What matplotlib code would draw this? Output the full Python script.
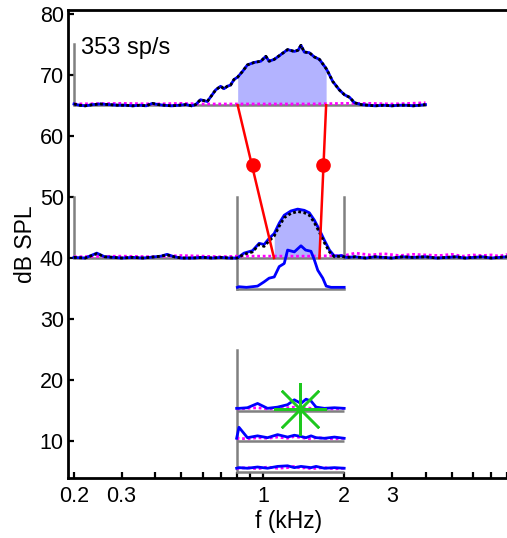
import matplotlib
matplotlib.use("Agg")
import matplotlib.pyplot as plt
import numpy as np

plt.rcParams['font.family'] = ['Liberation Sans', 'DejaVu Sans']

# ---------------- data ----------------
# top panel (rate profile at 65 dB, 353 sp/s scale)
top_f = [0.2, 0.21, 0.22, 0.235, 0.25, 0.27, 0.29, 0.31, 0.33, 0.35, 0.37, 0.39, 0.41, 0.43,
         0.46, 0.49, 0.52, 0.545, 0.564, 0.588, 0.623, 0.669, 0.698, 0.718, 0.739, 0.76, 0.782,
         0.807, 0.84, 0.877, 0.929, 0.983, 1.026, 1.055, 1.102, 1.167, 1.235, 1.308, 1.35,
         1.384, 1.424, 1.486, 1.551, 1.62, 1.69, 1.715, 1.74, 1.814, 1.92, 2.007, 2.093,
         2.185, 2.313, 2.45, 2.6, 2.8, 3.0, 3.2, 3.4, 3.6, 3.8, 4.0]
top_db = [65.2, 65.0, 64.9, 65.1, 65.2, 65.1, 65.0, 65.0, 64.9, 65.0, 64.9, 65.3, 65.1, 65.0,
          64.9, 65.0, 65.1, 64.9, 65.1, 65.9, 65.6, 67.5, 68.1, 67.7, 68.1, 68.3, 69.2,
          69.6, 70.5, 71.6, 72.0, 72.2, 73.0, 72.2, 72.5, 73.3, 74.1, 73.8, 74.0,
          74.8, 73.7, 73.6, 72.9, 72.5, 71.4, 71.0, 70.5, 68.9, 67.5, 66.7, 66.3,
          65.4, 65.1, 65.0, 64.9, 65.0, 64.9, 65.0, 65.0, 64.9, 65.0, 65.1]
top_mag_f = [0.2, 0.3, 0.4, 0.5, 0.6, 0.8, 1.0, 1.5, 2.0, 2.5, 3.0, 3.5, 4.0]
top_mag_db = [65.2, 65.3, 65.2, 65.3, 65.2, 65.2, 65.2, 65.2, 65.3, 65.3, 65.2, 65.3, 65.4]

# middle panel (profile at 40 dB)
mid_f = [0.2, 0.22, 0.243, 0.26, 0.28, 0.3, 0.33, 0.36, 0.38, 0.42, 0.442, 0.47, 0.5, 0.55,
         0.6, 0.65, 0.7, 0.75, 0.805, 0.852, 0.916, 0.969, 1.011, 1.055, 1.102, 1.15, 1.2,
         1.271, 1.346, 1.424, 1.486, 1.551, 1.62, 1.69, 1.764, 1.841, 1.95, 2.035, 2.2, 2.4,
         2.6, 2.8, 3.0, 3.3, 3.6, 4.0, 4.4, 4.8, 5.2, 5.6, 6.0, 6.5, 7.0, 7.5, 8.0]
mid_db = [40.1, 40.0, 40.8, 40.2, 40.1, 40.0, 40.1, 40.0, 40.1, 40.3, 40.6, 40.2, 40.0, 40.0,
          40.1, 40.0, 40.1, 40.0, 40.0, 40.8, 41.2, 42.4, 42.2, 43.2, 44.0, 45.7, 47.0,
          47.7, 48.0, 47.8, 47.4, 46.2, 44.6, 42.9, 41.3, 40.3, 40.4, 40.1, 40.2, 40.0,
          40.2, 40.1, 40.0, 40.2, 40.1, 40.2, 40.0, 40.1, 40.2, 40.0, 40.1, 40.2, 40.0, 40.1, 40.2]
mid_black_db = [40.1, 40.0, 40.7, 40.2, 40.1, 40.0, 40.1, 40.0, 40.1, 40.3, 40.5, 40.2, 40.0, 40.0,
                40.1, 40.0, 40.1, 40.0, 40.0, 40.6, 41.0, 42.2, 41.9, 42.8, 43.6, 45.2, 46.6,
                47.3, 47.6, 47.4, 47.0, 45.8, 44.2, 42.5, 41.0, 40.2, 40.3, 40.1, 40.2, 40.0,
                40.2, 40.1, 40.0, 40.2, 40.1, 40.2, 40.0, 40.1, 40.2, 40.0, 40.1, 40.2, 40.0, 40.1, 40.2]
mid_mag_f = [0.2, 0.3, 0.4, 0.5, 0.6, 0.7, 0.8, 1.0, 1.5, 2.0, 2.2, 2.5, 2.8, 3.2, 3.6,
             4.0, 4.5, 5.0, 5.5, 6.0, 6.5, 7.0, 7.5, 8.0]
mid_mag_db = [40.2, 40.3, 40.2, 40.4, 40.3, 40.2, 40.3, 40.3, 40.3, 40.4, 40.8, 40.5, 40.7,
              40.4, 40.6, 40.5, 40.4, 40.6, 40.3, 40.5, 40.4, 40.5, 40.3, 40.6]

# lower inset of middle panel (baseline 35)
low_f = [0.805, 0.816, 0.87, 0.956, 1.011, 1.055, 1.102, 1.15, 1.2, 1.235, 1.308, 1.384,
         1.44, 1.507, 1.551, 1.597, 1.667, 1.716, 1.79, 1.9, 2.0]
low_db = [35.2, 35.3, 35.2, 35.4, 36.1, 36.7, 36.9, 38.6, 39.1, 41.3, 41.0, 42.0,
          41.3, 41.1, 39.7, 38.0, 36.7, 35.4, 35.2, 35.2, 35.2]

# bottom traces (baselines 15, 10, 5)
bot_f = [0.8, 0.816, 0.877, 0.956, 1.041, 1.134, 1.235, 1.308, 1.384, 1.445, 1.508,
         1.574, 1.69, 1.841, 2.0]
bot15_db = [15.4, 15.4, 15.5, 16.2, 15.4, 15.6, 16.0, 16.8, 16.2, 16.9, 16.6, 15.6, 15.4, 15.5, 15.4]
bot10_db = [10.5, 12.3, 10.6, 10.9, 10.6, 11.1, 10.7, 11.0, 10.8, 10.6, 10.9, 10.6, 10.5, 10.7, 10.5]
bot5_db = [5.6, 5.7, 5.6, 5.8, 5.6, 5.9, 6.0, 5.7, 5.9, 5.8, 5.7, 5.9, 5.6, 5.7, 5.6]
bot15_mag = [15.4, 15.3, 15.4, 15.5, 15.3, 15.4, 15.5, 15.6, 15.4, 15.5, 15.4, 15.3, 15.4, 15.3, 15.4]
bot10_mag = [10.4, 10.5, 10.4, 10.6, 10.5, 10.7, 10.5, 10.8, 10.6, 10.5, 10.4, 10.6, 10.5, 10.4, 10.5]
bot5_mag = [5.5, 5.6, 5.7, 5.5, 5.8, 5.6, 5.7, 5.9, 5.6, 5.7, 5.5, 5.6, 5.7, 5.5, 5.6]

# shaded bands
top_band = (0.807, 1.715)
mid_band = (1.10, 1.62)

# red connector lines and dots
red_left_f = [0.807, 1.10]
red_right_f = [1.715, 1.62]
red_db = [65, 40]
dot_f = [0.918, 1.671]
dot_db = [55.2, 55.2]

# green asterisk
star_f = [1.373]
star_db = [15.35]

xticks = [0.2, 0.3, 1, 2, 3]
xticklabels = ['0.2', '0.3', '1', '2', '3']
minor_xt = [0.4, 0.5, 0.6, 0.7, 0.8, 0.9, 4, 5, 6, 7, 8]
yticks = [10, 20, 30, 40, 50, 60, 70, 80]

# ---------------- plot ----------------
fig = plt.figure(figsize=(5.07, 5.38), dpi=100)
ax = fig.add_axes([0.134, 0.1115, 0.87, 0.869])
ax.set_xscale('log')

gray = '#808080'
lwg = 1.8
blue = '#0000ff'
mag = '#ff00ff'
shade = '#b3b3ff'
lwb = 2.0
dotted_black = (0, (1.0, 0.9))

def trace(f, d, magf, magd, base, xr):
    ax.plot(xr, [base, base], color=gray, lw=lwg, solid_capstyle='butt', zorder=2)
    ax.plot(magf, magd, color=mag, lw=2.0, ls=(0, (1, 1)), zorder=3)
    ax.plot(f, d, color=blue, lw=lwb, zorder=4)

# top
tf = np.array(top_f); td = np.array(top_db)
m = (tf >= top_band[0]) & (tf <= top_band[1])
ax.fill_between(tf[m], 65, td[m], color=shade, lw=0, zorder=1)
trace(top_f, top_db, top_mag_f, top_mag_db, 65, [0.2, 4.0])
ax.plot(tf, td, color='black', lw=2.0, ls=dotted_black, zorder=5)
ax.plot([0.2, 0.2], [65, 75], color=gray, lw=lwg, zorder=2)

# middle
mf = np.array(mid_f); md = np.array(mid_db)
m = (mf >= mid_band[0]) & (mf <= mid_band[1])
ax.fill_between(mf[m], 40, md[m], color=shade, lw=0, zorder=1)
trace(mid_f, mid_db, mid_mag_f, mid_mag_db, 40, [0.2, 8.0])
ax.plot(mf, mid_black_db, color='black', lw=2.0, ls=dotted_black, zorder=5)
ax.plot([0.2, 0.2], [40, 50], color=gray, lw=lwg, zorder=2)
ax.plot([0.8, 0.8], [35, 50], color=gray, lw=lwg, zorder=2)
ax.plot([2.0, 2.0], [40, 50], color=gray, lw=lwg, zorder=2)

# lower inset
ax.plot([0.8, 2.0], [35, 35], color=gray, lw=lwg, zorder=2)
ax.plot(low_f, low_db, color=blue, lw=lwb, zorder=4)

# bottom
for dd, mm, b in [(bot15_db, bot15_mag, 15), (bot10_db, bot10_mag, 10), (bot5_db, bot5_mag, 5)]:
    trace(bot_f, dd, bot_f, mm, b, [0.8, 2.0])
ax.plot([0.8, 0.8], [5, 25], color=gray, lw=lwg, zorder=2)

# red connectors
ax.plot(red_left_f, red_db, color='red', lw=1.8, zorder=6)
ax.plot(red_right_f, red_db, color='red', lw=1.8, zorder=6)
ax.plot(dot_f, dot_db, 'o', color='red', ms=9.5, zorder=7)

# asterisk
ax.plot(star_f, star_db, marker=(8, 2, 0), color='#1ec81e', ms=38, mew=1.8, ls='none', zorder=8)

ax.text(0.213, 73.3, '353 sp/s', fontsize=17, va='baseline', ha='left')

ax.set_xlim(0.19, 8.15)
ax.set_ylim(4, 80.5)
ax.set_xticks(xticks)
ax.set_xticklabels(xticklabels)
ax.set_xticks(minor_xt, minor=True)
ax.xaxis.set_minor_formatter(matplotlib.ticker.NullFormatter())
ax.set_yticks(yticks)
ax.tick_params(axis='both', which='both', direction='in', width=1.6, length=4, labelsize=15.5)
ax.tick_params(axis='x', which='both', pad=6, top=False)
ax.tick_params(axis='y', pad=3, right=False)
ax.spines['right'].set_visible(False)
for s in ['left', 'bottom', 'top']:
    ax.spines[s].set_linewidth(2.0)
ax.set_xlabel('f (kHz)', fontsize=16.5, labelpad=2)
ax.set_ylabel('dB SPL', fontsize=16.5, labelpad=2)

fig.savefig('out.png', dpi=100)
